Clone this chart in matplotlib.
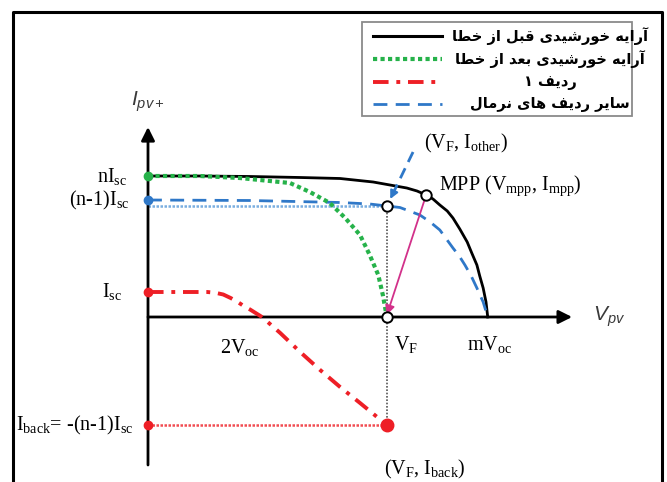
import matplotlib
matplotlib.use("Agg")
import matplotlib.pyplot as plt
from matplotlib.lines import Line2D
from matplotlib.patches import Rectangle
from matplotlib.transforms import Affine2D

plt.rcParams['mathtext.fontset'] = 'custom'
plt.rcParams['mathtext.rm'] = 'Liberation Serif'
plt.rcParams['mathtext.it'] = 'Liberation Serif:italic'
plt.rcParams['mathtext.sf'] = 'Liberation Sans:italic'

# voltages in units of Voc, currents in units of Isc
v_before = [0, 0.91, 1.79, 2.67, 3.37, 3.95, 4.54, 4.72, 4.88, 5.00, 5.12, 5.25, 5.35,
            5.47, 5.60, 5.68, 5.77, 5.82, 5.88, 5.93, 5.96]
i_before = [5.64, 5.64, 5.62, 5.58, 5.54, 5.40, 5.16, 5.04, 4.88, 4.72, 4.48, 4.24, 3.96,
            3.52, 3.00, 2.56, 2.08, 1.64, 1.16, 0.60, 0]

v_after = [0, 0.91, 1.61, 2.49, 2.84, 3.19, 3.46, 3.72, 3.89, 4.04, 4.12, 4.19]
i_after = [5.64, 5.64, 5.56, 5.36, 5.00, 4.56, 3.96, 3.28, 2.48, 1.68, 0.88, 0]

v_row1 = [0, 1.04, 1.18, 1.32, 1.45, 1.56, 1.68, 1.79, 2.00, 2.32, 2.67, 3.02, 3.37, 3.72, 4.19]
i_row1 = [1.0, 1.0, 0.97, 0.9, 0.76, 0.62, 0.44, 0.3, 0, -0.64, -1.4, -2.12, -2.8, -3.44, -4.32]

v_other = [0, 1.79, 3.37, 3.89, 4.42, 4.77, 4.95, 5.12, 5.35, 5.46, 5.56, 5.67, 5.77, 5.88, 5.96]
i_other = [4.68, 4.66, 4.58, 4.52, 4.38, 4.08, 3.80, 3.48, 2.76, 2.44, 2.08, 1.64, 1.16, 0.60, 0]

V_F = 4.19
I_OTHER_F = 4.44
I_BACK = -4.32
MPP = (4.88, 4.88)

legend_labels = [
    "آرایه خورشیدی قبل از خطا",
    "آرایه خورشیدی بعد از خطا",
    "ردیف ۱",
    "سایر ردیف های نرمال",
]

# presentation forms: isolated, final, initial, medial
FORMS = {
    'آ': (0xFE81, 0xFE82, None, None),
    'ا': (0xFE8D, 0xFE8E, None, None),
    'ب': (0xFE8F, 0xFE90, 0xFE91, 0xFE92),
    'خ': (0xFEA5, 0xFEA6, 0xFEA7, 0xFEA8),
    'د': (0xFEA9, 0xFEAA, None, None),
    'ر': (0xFEAD, 0xFEAE, None, None),
    'ز': (0xFEAF, 0xFEB0, None, None),
    'س': (0xFEB1, 0xFEB2, 0xFEB3, 0xFEB4),
    'ش': (0xFEB5, 0xFEB6, 0xFEB7, 0xFEB8),
    'ط': (0xFEC1, 0xFEC2, 0xFEC3, 0xFEC4),
    'ع': (0xFEC9, 0xFECA, 0xFECB, 0xFECC),
    'ف': (0xFED1, 0xFED2, 0xFED3, 0xFED4),
    'ق': (0xFED5, 0xFED6, 0xFED7, 0xFED8),
    'ل': (0xFEDD, 0xFEDE, 0xFEDF, 0xFEE0),
    'م': (0xFEE1, 0xFEE2, 0xFEE3, 0xFEE4),
    'ن': (0xFEE5, 0xFEE6, 0xFEE7, 0xFEE8),
    'ه': (0xFEE9, 0xFEEA, 0xFEEB, 0xFEEC),
    'و': (0xFEED, 0xFEEE, None, None),
    '\u06cc': (0xFEEF, 0xFEF0, 0xFEF3, 0xFEF4),
    '\u064a': (0xFEEF, 0xFEF0, 0xFEF3, 0xFEF4),
}


def shape_rtl(text):
    """Join Persian letters and reverse for left-to-right drawing."""
    out = []
    for k, ch in enumerate(text):
        f = FORMS.get(ch)
        if f is None:
            out.append(ch)
            continue
        prev = FORMS.get(text[k - 1]) if k > 0 else None
        nxt = FORMS.get(text[k + 1]) if k + 1 < len(text) else None
        join_prev = prev is not None and prev[2] is not None
        join_next = nxt is not None and f[2] is not None
        if join_prev and join_next:
            code = f[3]
        elif join_prev:
            code = f[1]
        elif join_next:
            code = f[2]
        else:
            code = f[0]
        out.append(chr(code))
    return ''.join(reversed(out))


W, H = 667, 482
fig = plt.figure(figsize=(W / 100, H / 100), dpi=100)
ax = fig.add_axes([0, 0, 1, 1])
# 57 px per Voc, 25 px per Isc, origin at pixel (148, 317)
ax.set_xlim(-148 / 57, (W - 148) / 57)
ax.set_ylim((317 - H) / 25, 317 / 25)
ax.axis('off')

# pixel transform (top-left origin) for the frame and legend
pix = Affine2D().scale(1 / W, -1 / H).translate(0, 1) + fig.transFigure

# outer frame, open at the bottom
fig.add_artist(Line2D([13, 13, 662, 662], [H + 50, 12, 12, H + 50], transform=pix,
                      color='black', lw=2.2))

# axes arrows
ax.annotate('', xy=(0, 7.6), xytext=(0, -5.92),
            arrowprops=dict(arrowstyle='-|>', color='black', lw=2.0,
                            mutation_scale=20, shrinkA=0, shrinkB=0))
ax.annotate('', xy=(7.44, 0), xytext=(0, 0),
            arrowprops=dict(arrowstyle='-|>', color='black', lw=2.0,
                            mutation_scale=20, shrinkA=0, shrinkB=0))

c_black = 'black'
c_green = '#26b24a'
c_red = '#ee1f26'
c_blue = '#2f78c8'
c_light = '#7aaee0'
c_mag = '#d2318a'

# helper guides
ax.plot([V_F, V_F], [I_OTHER_F, I_BACK], color='#555555', lw=1.2, ls=(0, (1, 1)), zorder=2)
ax.plot([0, V_F], [I_OTHER_F, I_OTHER_F], color=c_light, lw=1.8, ls=(0, (1, 0.6)), zorder=2)
ax.plot([0, V_F], [I_BACK, I_BACK], color=c_red, lw=1.8, ls=(0, (1, 0.6)), alpha=0.8, zorder=2)

# I-V curves
ax.plot(v_before, i_before, color=c_black, lw=2.0, zorder=4, solid_joinstyle='round')
ax.plot(v_other, i_other, color=c_blue, lw=2.0, ls=(0, (5, 3)), zorder=4)
ax.plot(v_after, i_after, color=c_green, lw=3.0, ls=(0, (1, 0.8)), zorder=5)
ax.plot(v_row1, i_row1, color=c_red, lw=2.8, ls=(0, (4, 2, 1, 2)), zorder=4)

# end markers on the current axis
ax.plot([0], [i_before[0]], 'o', color=c_green, ms=6, zorder=6)
ax.plot([0], [i_other[0]], 'o', color=c_blue, ms=6, zorder=6)
ax.plot([0], [i_row1[0]], 'o', color=c_red, ms=6, zorder=6)
ax.plot([0], [I_BACK], 'o', color=c_red, ms=6, zorder=6)
ax.plot([V_F], [I_BACK], 'o', color=c_red, ms=9, zorder=6)

# MPP to VF arrow
ax.annotate('', xy=(V_F, 0.08), xytext=MPP,
            arrowprops=dict(arrowstyle='-|>', color=c_mag, lw=1.3,
                            mutation_scale=14, shrinkA=0, shrinkB=0), zorder=5)

# dashed pointer to (VF, Iother)
ax.plot([4.65, 4.31], [6.60, 5.0], color=c_blue, lw=2.0, ls=(0, (4, 2.5)), zorder=5)
ax.annotate('', xy=(4.25, 4.72), xytext=(4.31, 5.0),
            arrowprops=dict(arrowstyle='-|>', color=c_blue, lw=1.5,
                            mutation_scale=12, shrinkA=0, shrinkB=0), zorder=5)

# open points
for px, py in [(V_F, I_OTHER_F), (V_F, 0), MPP]:
    ax.plot([px], [py], 'o', mfc='white', mec='black', mew=1.4, ms=7.5, zorder=7)

serif = 'Liberation Serif'
fs = 14.5
ax.text(-0.37, 5.64, r'n$\mathrm{I_{sc}}$', ha='right', va='center', fontsize=fs, family=serif)
ax.text(-0.32, 4.68, r'(n-1)$\mathrm{I_{sc}}$', ha='right', va='center', fontsize=fs, family=serif)
ax.text(-0.46, 1.0, r'$\mathrm{I_{sc}}$', ha='right', va='center', fontsize=fs, family=serif)
ax.text(-0.25, I_BACK, r'$\mathrm{I_{back}}$= -(n-1)$\mathrm{I_{sc}}$', ha='right', va='center',
        fontsize=fs, family=serif)
ax.text(1.61, -1.2, r'2$\mathrm{V_{oc}}$', ha='center', va='center', fontsize=fs, family=serif)
ax.text(4.52, -1.1, r'$\mathrm{V_F}$', ha='center', va='center', fontsize=fs, family=serif)
ax.text(6.0, -1.1, r'm$\mathrm{V_{oc}}$', ha='center', va='center', fontsize=fs, family=serif)
ax.text(4.84, 6.95, r'($\mathrm{V_F}$, $\mathrm{I_{other}}$)', ha='left', va='center',
        fontsize=fs, family=serif)
ax.text(5.1, 5.25, r'MPP ($\mathrm{V_{mpp}}$, $\mathrm{I_{mpp}}$)', ha='left', va='center',
        fontsize=fs, family=serif)
ax.text(4.14, -6.1, r'($\mathrm{V_F}$, $\mathrm{I_{back}}$)', ha='left', va='center',
        fontsize=fs, family=serif)

ax.text(0.0, 8.6, r'$\mathsf{I_{pv+}}$', ha='center', va='center', fontsize=15, color='#3a3a3a')
ax.text(7.8, 0.0, r'$\mathsf{V_{pv}}$', ha='left', va='center', fontsize=15, color='#3a3a3a')

# legend box
fig.add_artist(Rectangle((362, 22), 270, 94, transform=pix, facecolor='white',
                         edgecolor='#8a8a8a', lw=1.3, zorder=8))
legend_styles = [
    dict(color=c_black, lw=2.2, ls='-'),
    dict(color=c_green, lw=3.0, ls=(0, (1, 0.8))),
    dict(color=c_red, lw=2.8, ls=(0, (4, 2, 1, 2))),
    dict(color=c_blue, lw=2.0, ls=(0, (5, 3))),
]
rows_y = [36, 59, 82, 104]
for label, style, ry in zip(legend_labels, legend_styles, rows_y):
    fig.add_artist(Line2D([373, 442], [ry, ry], transform=pix, zorder=9, **style))
    fig.text(550 / W, 1 - ry / H, shape_rtl(label), ha='center', va='center',
             fontsize=10.5, fontweight='bold', family=['DejaVu Sans'], zorder=9)

fig.savefig('out.png', dpi=100)
